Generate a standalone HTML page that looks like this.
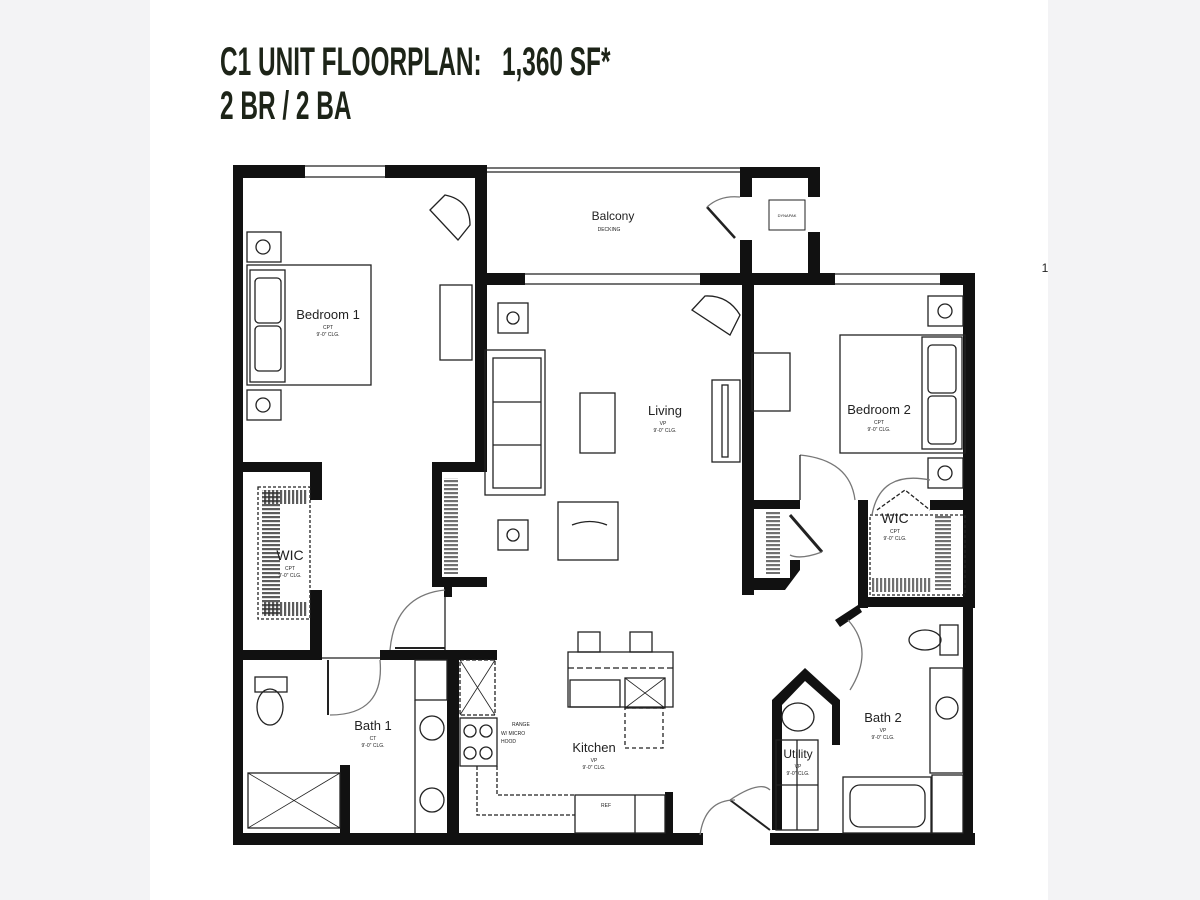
<!DOCTYPE html>
<html><head><meta charset="utf-8"><style>
html,body{margin:0;padding:0;width:1200px;height:900px;overflow:hidden;background:#f3f3f5}
.page{position:absolute;left:150px;top:0;width:898px;height:900px;background:#fff}
.t{position:absolute;left:220px;font-family:"Liberation Sans Narrow","Liberation Sans",sans-serif;font-weight:bold;color:#1d2418;font-size:40px;transform-origin:0 0;transform:scaleX(0.61);white-space:pre;line-height:1}
svg{position:absolute;left:0;top:0}
</style></head><body>
<div class="page"></div>
<div class="t" style="top:42px">C1 UNIT FLOORPLAN:   1,360 SF*</div>
<div class="t" style="top:86px">2 BR / 2 BA</div>
<svg width="1200" height="900" viewBox="0 0 1200 900" font-family="Liberation Sans, sans-serif">
<defs>
<pattern id="st" width="4" height="4" patternUnits="userSpaceOnUse"><rect width="2.2" height="4" fill="#333"/></pattern>
<pattern id="sh" width="4" height="4" patternUnits="userSpaceOnUse"><rect width="4" height="2.2" fill="#333"/></pattern>
</defs>
<g fill="#111">
<rect x="233" y="165" width="10" height="680"/>
<rect x="233" y="165" width="72" height="13"/>
<rect x="385" y="165" width="102" height="13"/>
<rect x="475" y="165" width="12" height="305"/>
<rect x="740" y="167" width="12" height="30"/>
<rect x="740" y="240" width="12" height="45"/>
<rect x="740" y="167" width="80" height="11"/>
<rect x="808" y="167" width="12" height="30"/>
<rect x="808" y="232" width="12" height="43"/>
<rect x="475" y="273" width="50" height="12"/>
<rect x="700" y="273" width="135" height="12"/>
<rect x="940" y="273" width="35" height="12"/>
<rect x="963" y="273" width="12" height="335"/>
<rect x="963" y="608" width="10" height="237"/>
<rect x="742" y="285" width="12" height="310"/>
<rect x="742" y="500" width="58" height="9"/>
<polygon points="742,590 785,590 800,570 800,560 790,560 790,578 754,578 754,590"/>
<rect x="858" y="500" width="10" height="108"/>
<rect x="930" y="500" width="45" height="10"/>
<rect x="858" y="597" width="117" height="10"/>
<polygon points="835,620 858,605 862,612 840,627"/>
<polygon points="772,830 772,700 805,668 840,700 840,745 832,745 832,705 805,681 782,705 782,830"/>
<rect x="233" y="833" width="470" height="12"/>
<rect x="770" y="833" width="205" height="12"/>
<rect x="237" y="462" width="85" height="10"/>
<rect x="310" y="462" width="12" height="38"/>
<rect x="310" y="590" width="12" height="70"/>
<rect x="237" y="650" width="85" height="10"/>
<rect x="380" y="650" width="70" height="10"/>
<rect x="432" y="462" width="55" height="10"/>
<rect x="432" y="462" width="10" height="125"/>
<rect x="432" y="577" width="55" height="10"/>
<rect x="444" y="587" width="8" height="10"/>
<rect x="447" y="650" width="12" height="195"/>
<rect x="447" y="650" width="50" height="10"/>
<rect x="340" y="765" width="10" height="70"/>
<rect x="665" y="792" width="8" height="43"/>
</g>
<!-- closet rods -->
<rect x="262" y="490" width="18" height="125" fill="url(#sh)" opacity="0.8"/>
<rect x="262" y="490" width="45" height="14" fill="url(#st)" opacity="0.8"/>
<rect x="262" y="602" width="45" height="14" fill="url(#st)" opacity="0.8"/>
<rect x="444" y="478" width="14" height="96" fill="url(#sh)" opacity="0.7"/>
<rect x="766" y="512" width="14" height="62" fill="url(#sh)" opacity="0.7"/>
<rect x="935" y="515" width="16" height="75" fill="url(#sh)" opacity="0.7"/>
<rect x="872" y="578" width="60" height="14" fill="url(#st)" opacity="0.7"/>
<g fill="none" stroke="#222" stroke-width="1.3">
<line x1="305" y1="166" x2="385" y2="166"/><line x1="305" y1="177" x2="385" y2="177"/>
<line x1="487" y1="168" x2="740" y2="168"/><line x1="487" y1="172" x2="740" y2="172"/>
<line x1="525" y1="274" x2="700" y2="274"/><line x1="525" y1="284" x2="700" y2="284"/>
<line x1="835" y1="274" x2="940" y2="274"/><line x1="835" y1="284" x2="940" y2="284"/>
<rect x="247" y="232" width="34" height="30"/><circle cx="263" cy="247" r="7"/>
<rect x="247" y="390" width="34" height="30"/><circle cx="263" cy="405" r="7"/>
<rect x="247" y="265" width="124" height="120"/>
<rect x="250" y="270" width="35" height="112"/>
<rect x="255" y="278" width="26" height="45" rx="4"/><rect x="255" y="326" width="26" height="45" rx="4"/>
<rect x="440" y="285" width="32" height="75"/>
<path d="M430 210 L445 195 Q470 200 470 225 L458 240 Z"/>
<rect x="258" y="487" width="52" height="132" stroke-dasharray="3 2"/>
<rect x="498" y="303" width="30" height="30"/><circle cx="513" cy="318" r="6"/>
<rect x="498" y="520" width="30" height="30"/><circle cx="513" cy="535" r="6"/>
<rect x="485" y="350" width="60" height="145"/>
<rect x="493" y="358" width="48" height="130"/>
<line x1="493" y1="402" x2="541" y2="402"/><line x1="493" y1="445" x2="541" y2="445"/>
<rect x="580" y="393" width="35" height="60"/>
<rect x="558" y="502" width="60" height="58"/>
<path d="M572 525 Q590 518 607 525"/>
<path d="M692 310 L705 296 Q728 295 740 315 L730 335 Z"/>
<rect x="712" y="380" width="28" height="82"/><rect x="722" y="385" width="6" height="72"/>
<rect x="752" y="353" width="38" height="58"/>
<rect x="928" y="296" width="35" height="30"/><circle cx="945" cy="311" r="7"/>
<rect x="928" y="458" width="35" height="30"/><circle cx="945" cy="473" r="7"/>
<rect x="840" y="335" width="125" height="118"/>
<rect x="922" y="337" width="40" height="112"/>
<rect x="928" y="345" width="28" height="48" rx="4"/><rect x="928" y="396" width="28" height="48" rx="4"/>
<rect x="870" y="515" width="95" height="80" stroke-dasharray="3 2"/>
<path d="M877 510 L905 490 L930 510" stroke-dasharray="4 2"/>
<path d="M800 455 Q850 460 855 500" stroke="#777"/><line x1="800" y1="455" x2="800" y2="500"/>
<path d="M930 480 Q880 470 872 515" stroke="#777"/>
<line x1="790" y1="515" x2="822" y2="552" stroke-width="3"/><path d="M822 552 Q800 560 790 555" stroke="#777"/>
<line x1="707" y1="207" x2="735" y2="238" stroke-width="2.5"/><path d="M707 207 Q720 195 740 197" stroke="#777"/>
<path d="M445 590 Q395 595 390 650" stroke="#777"/><line x1="395" y1="648" x2="445" y2="648" stroke-width="2"/>
<line x1="445" y1="597" x2="445" y2="650"/>
<line x1="322" y1="658" x2="380" y2="658"/>
<path d="M380 660 Q385 715 330 715" stroke="#777"/><line x1="328" y1="660" x2="328" y2="715" stroke-width="2"/>
<path d="M848 620 Q875 650 850 690" stroke="#777"/>
<path d="M730 800 Q760 780 770 790" stroke="#777"/><line x1="730" y1="800" x2="770" y2="830" stroke-width="2"/>
<path d="M700 835 Q705 800 735 800" stroke="#777"/>
<rect x="415" y="660" width="32" height="40"/><line x1="415" y1="700" x2="415" y2="833"/>
<circle cx="432" cy="728" r="12"/><circle cx="432" cy="800" r="12"/>
<ellipse cx="270" cy="707" rx="13" ry="18"/><rect x="255" y="677" width="32" height="15"/>
<rect x="248" y="773" width="92" height="55"/><path d="M248 773 L340 828 M340 773 L248 828" stroke-width="0.8"/>
<rect x="460" y="660" width="35" height="55" stroke-dasharray="4 2"/>
<path d="M460 660 L495 715 M495 660 L460 715" stroke-width="0.8"/>
<rect x="460" y="718" width="37" height="48"/>
<circle cx="470" cy="731" r="6"/><circle cx="486" cy="731" r="6"/><circle cx="470" cy="753" r="6"/><circle cx="486" cy="753" r="6"/>
<path d="M477 766 L477 815 L575 815" stroke-dasharray="4 2"/>
<path d="M497 766 L497 795 L575 795" stroke-dasharray="4 2"/>
<rect x="575" y="795" width="90" height="38"/><line x1="635" y1="795" x2="635" y2="833"/>
<rect x="568" y="652" width="105" height="55"/>
<line x1="568" y1="668" x2="673" y2="668" stroke-dasharray="6 3"/>
<rect x="570" y="680" width="50" height="27"/>
<rect x="625" y="678" width="40" height="30"/><path d="M625 678 L665 708 M665 678 L625 708" stroke-width="0.8"/>
<rect x="625" y="708" width="38" height="40" stroke-dasharray="4 3"/>
<rect x="578" y="632" width="22" height="20"/><rect x="630" y="632" width="22" height="20"/>
<ellipse cx="798" cy="717" rx="16" ry="14"/>
<rect x="776" y="740" width="42" height="90"/><line x1="776" y1="785" x2="818" y2="785"/><line x1="797" y1="740" x2="797" y2="830"/>
<ellipse cx="925" cy="640" rx="16" ry="10"/><rect x="940" y="625" width="18" height="30"/>
<rect x="930" y="668" width="33" height="105"/><circle cx="947" cy="708" r="11"/>
<rect x="932" y="775" width="31" height="58"/>
<rect x="843" y="777" width="88" height="56"/><rect x="850" y="785" width="75" height="42" rx="10"/>
</g>
<g font-size="13" fill="#222" text-anchor="middle">
<text x="613" y="220" font-size="12">Balcony</text><text x="609" y="231" font-size="5">DECKING</text>
<text x="328" y="319">Bedroom 1</text><text x="328" y="329" font-size="5">CPT</text><text x="328" y="336" font-size="5">9'-0" CLG.</text>
<text x="665" y="415">Living</text><text x="663" y="425" font-size="5">VP</text><text x="665" y="432" font-size="5">9'-0" CLG.</text>
<text x="879" y="414">Bedroom 2</text><text x="879" y="424" font-size="5">CPT</text><text x="879" y="431" font-size="5">9'-0" CLG.</text>
<text x="290" y="560" font-size="14">WIC</text><text x="290" y="570" font-size="5">CPT</text><text x="290" y="577" font-size="5">9'-0" CLG.</text>
<text x="895" y="523" font-size="14">WIC</text><text x="895" y="533" font-size="5">CPT</text><text x="895" y="540" font-size="5">9'-0" CLG.</text>
<text x="373" y="730">Bath 1</text><text x="373" y="740" font-size="5">CT</text><text x="373" y="747" font-size="5">9'-0" CLG.</text>
<text x="594" y="752">Kitchen</text><text x="594" y="762" font-size="5">VP</text><text x="594" y="769" font-size="5">9'-0" CLG.</text>
<text x="883" y="722">Bath 2</text><text x="883" y="732" font-size="5">VP</text><text x="883" y="739" font-size="5">9'-0" CLG.</text>
<text x="798" y="758" font-size="12">Utility</text><text x="798" y="768" font-size="5">VP</text><text x="798" y="775" font-size="5">9'-0" CLG.</text>
<text x="512" y="726" font-size="5" text-anchor="start">RANGE</text><text x="501" y="735" font-size="5" text-anchor="start">W/ MICRO</text><text x="501" y="743" font-size="5" text-anchor="start">HOOD</text>
<text x="606" y="807" font-size="5">REF</text>
<rect x="769" y="200" width="36" height="30" fill="none" stroke="#222"/><text x="787" y="217" font-size="4">DYNAPAK</text>
<text x="1045" y="272" font-size="12">1</text>
</g>
</svg>
</body></html>
